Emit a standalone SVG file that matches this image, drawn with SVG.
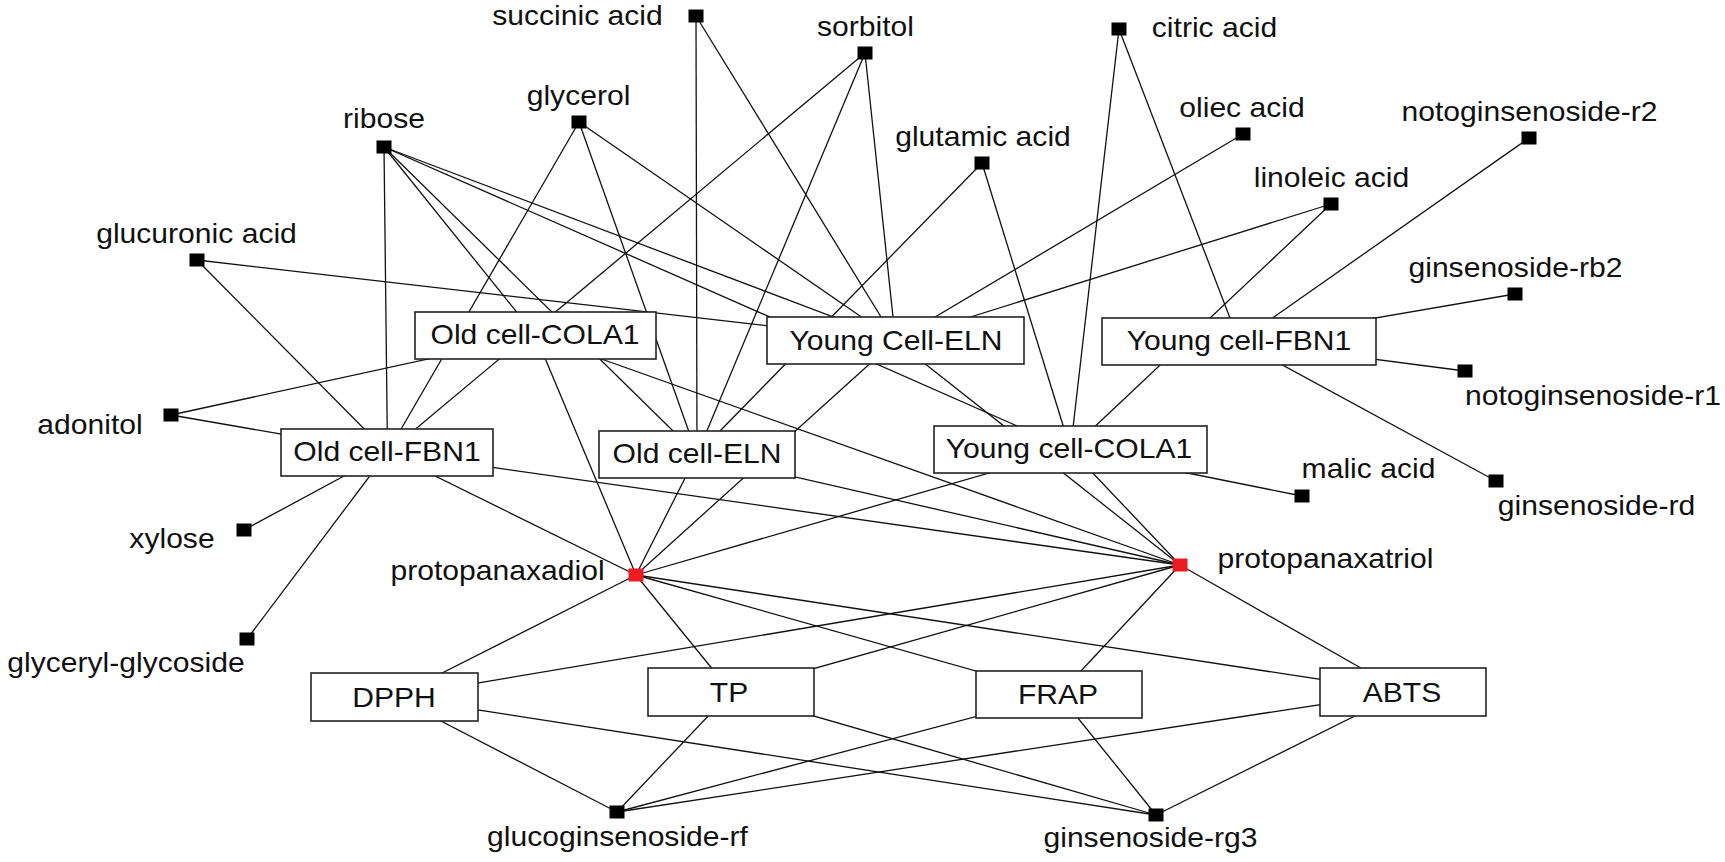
<svg xmlns="http://www.w3.org/2000/svg" width="1725" height="862" viewBox="0 0 1725 862">
<style>
.bg{fill:#fff}
#edges line{stroke:#111;stroke-width:1.3}
.box{fill:#fff;stroke:#222;stroke-width:1.6}
.sq{fill:#000}
.red{fill:#ed1c24}
text{font-family:"Liberation Sans",Arial,sans-serif;font-size:27px;fill:#111;text-anchor:middle}
</style>
<rect class="bg" x="0" y="0" width="1725" height="862"/>
<g id="edges">
<line x1="696" y1="16" x2="697" y2="454.5"/>
<line x1="696" y1="16" x2="895.5" y2="340.5"/>
<line x1="865" y1="53" x2="387.5" y2="452.5"/>
<line x1="865" y1="53" x2="697" y2="454.5"/>
<line x1="865" y1="53" x2="895.5" y2="340.5"/>
<line x1="1119" y1="29" x2="1070.5" y2="449.5"/>
<line x1="1119" y1="29" x2="1239" y2="341.5"/>
<line x1="579" y1="122" x2="387.5" y2="452.5"/>
<line x1="579" y1="122" x2="697" y2="454.5"/>
<line x1="579" y1="122" x2="895.5" y2="340.5"/>
<line x1="384" y1="147" x2="387.5" y2="452.5"/>
<line x1="384" y1="147" x2="535.5" y2="335.5"/>
<line x1="384" y1="147" x2="697" y2="454.5"/>
<line x1="384" y1="147" x2="895.5" y2="340.5"/>
<line x1="384" y1="147" x2="1070.5" y2="449.5"/>
<line x1="982" y1="163" x2="697" y2="454.5"/>
<line x1="982" y1="163" x2="1070.5" y2="449.5"/>
<line x1="1243" y1="134" x2="895.5" y2="340.5"/>
<line x1="1331" y1="204" x2="895.5" y2="340.5"/>
<line x1="1331" y1="204" x2="1070.5" y2="449.5"/>
<line x1="1529" y1="138" x2="1239" y2="341.5"/>
<line x1="1515" y1="294" x2="1239" y2="341.5"/>
<line x1="1465" y1="371" x2="1239" y2="341.5"/>
<line x1="1496" y1="481" x2="1239" y2="341.5"/>
<line x1="1302" y1="496" x2="1070.5" y2="449.5"/>
<line x1="197" y1="260" x2="895.5" y2="340.5"/>
<line x1="197" y1="260" x2="387.5" y2="452.5"/>
<line x1="171" y1="415" x2="535.5" y2="335.5"/>
<line x1="171" y1="415" x2="387.5" y2="452.5"/>
<line x1="244" y1="530" x2="387.5" y2="452.5"/>
<line x1="247" y1="639" x2="387.5" y2="452.5"/>
<line x1="636" y1="575" x2="535.5" y2="335.5"/>
<line x1="636" y1="575" x2="387.5" y2="452.5"/>
<line x1="636" y1="575" x2="697" y2="454.5"/>
<line x1="636" y1="575" x2="895.5" y2="340.5"/>
<line x1="636" y1="575" x2="1070.5" y2="449.5"/>
<line x1="1180" y1="565" x2="535.5" y2="335.5"/>
<line x1="1180" y1="565" x2="387.5" y2="452.5"/>
<line x1="1180" y1="565" x2="697" y2="454.5"/>
<line x1="1180" y1="565" x2="895.5" y2="340.5"/>
<line x1="1180" y1="565" x2="1070.5" y2="449.5"/>
<line x1="636" y1="575" x2="394.5" y2="697"/>
<line x1="636" y1="575" x2="731" y2="692"/>
<line x1="636" y1="575" x2="1059" y2="694.5"/>
<line x1="636" y1="575" x2="1403" y2="692"/>
<line x1="1180" y1="565" x2="394.5" y2="697"/>
<line x1="1180" y1="565" x2="731" y2="692"/>
<line x1="1180" y1="565" x2="1059" y2="694.5"/>
<line x1="1180" y1="565" x2="1403" y2="692"/>
<line x1="617" y1="812" x2="394.5" y2="697"/>
<line x1="617" y1="812" x2="731" y2="692"/>
<line x1="617" y1="812" x2="1059" y2="694.5"/>
<line x1="617" y1="812" x2="1403" y2="692"/>
<line x1="1156" y1="815" x2="394.5" y2="697"/>
<line x1="1156" y1="815" x2="731" y2="692"/>
<line x1="1156" y1="815" x2="1059" y2="694.5"/>
<line x1="1156" y1="815" x2="1403" y2="692"/>
</g>
<g id="old-cell-cola1"><rect class="box" x="415" y="312" width="241" height="47"/><text transform="translate(535,343.5) scale(1.115,1)">Old cell-COLA1</text></g>
<g id="young-cell-eln"><rect class="box" x="767" y="317" width="257" height="47"/><text transform="translate(896,349.5) scale(1.115,1)">Young Cell-ELN</text></g>
<g id="young-cell-fbn1"><rect class="box" x="1102" y="318" width="274" height="47"/><text transform="translate(1239,349.5) scale(1.115,1)">Young cell-FBN1</text></g>
<g id="old-cell-fbn1"><rect class="box" x="281" y="429" width="212" height="47"/><text transform="translate(387,460.5) scale(1.115,1)">Old cell-FBN1</text></g>
<g id="old-cell-eln"><rect class="box" x="599" y="431" width="196" height="47"/><text transform="translate(697,462.5) scale(1.115,1)">Old cell-ELN</text></g>
<g id="young-cell-cola1"><rect class="box" x="934" y="426" width="273" height="47"/><text transform="translate(1069,457.5) scale(1.115,1)">Young cell-COLA1</text></g>
<g id="dpph"><rect class="box" x="311" y="673" width="167" height="48"/><text transform="translate(394,706.5) scale(1.115,1)">DPPH</text></g>
<g id="tp"><rect class="box" x="648" y="668" width="166" height="48"/><text transform="translate(729,701.5) scale(1.115,1)">TP</text></g>
<g id="frap"><rect class="box" x="976" y="671" width="166" height="47"/><text transform="translate(1058,703.5) scale(1.115,1)">FRAP</text></g>
<g id="abts"><rect class="box" x="1320" y="668" width="166" height="48"/><text transform="translate(1402,701.5) scale(1.115,1)">ABTS</text></g>
<g id="succinic-acid"><rect class="sq" x="688.5" y="9.5" width="15" height="13"/><text transform="translate(577.5,25) scale(1.115,1)">succinic acid</text></g>
<g id="sorbitol"><rect class="sq" x="857.5" y="46.5" width="15" height="13"/><text transform="translate(865.5,36) scale(1.115,1)">sorbitol</text></g>
<g id="citric-acid"><rect class="sq" x="1111.5" y="22.5" width="15" height="13"/><text transform="translate(1214.5,37) scale(1.115,1)">citric acid</text></g>
<g id="glycerol"><rect class="sq" x="571.5" y="115.5" width="15" height="13"/><text transform="translate(578.5,105) scale(1.115,1)">glycerol</text></g>
<g id="ribose"><rect class="sq" x="376.5" y="140.5" width="15" height="13"/><text transform="translate(384,128) scale(1.115,1)">ribose</text></g>
<g id="glutamic-acid"><rect class="sq" x="974.5" y="156.5" width="15" height="13"/><text transform="translate(983,146) scale(1.115,1)">glutamic acid</text></g>
<g id="oliec-acid"><rect class="sq" x="1235.5" y="127.5" width="15" height="13"/><text transform="translate(1242,117) scale(1.115,1)">oliec acid</text></g>
<g id="notoginsenoside-r2"><rect class="sq" x="1521.5" y="131.5" width="15" height="13"/><text transform="translate(1529.5,121) scale(1.115,1)">notoginsenoside-r2</text></g>
<g id="linoleic-acid"><rect class="sq" x="1323.5" y="197.5" width="15" height="13"/><text transform="translate(1331.5,187) scale(1.115,1)">linoleic acid</text></g>
<g id="ginsenoside-rb2"><rect class="sq" x="1507.5" y="287.5" width="15" height="13"/><text transform="translate(1515.5,277) scale(1.115,1)">ginsenoside-rb2</text></g>
<g id="glucuronic-acid"><rect class="sq" x="189.5" y="253.5" width="15" height="13"/><text transform="translate(196.5,243) scale(1.115,1)">glucuronic acid</text></g>
<g id="adonitol"><rect class="sq" x="163.5" y="408.5" width="15" height="13"/><text transform="translate(90,434) scale(1.115,1)">adonitol</text></g>
<g id="xylose"><rect class="sq" x="236.5" y="523.5" width="15" height="13"/><text transform="translate(172,548) scale(1.115,1)">xylose</text></g>
<g id="glyceryl-glycoside"><rect class="sq" x="239.5" y="632.5" width="15" height="13"/><text transform="translate(126,672) scale(1.115,1)">glyceryl-glycoside</text></g>
<g id="notoginsenoside-r1"><rect class="sq" x="1457.5" y="364.5" width="15" height="13"/><text transform="translate(1593,405) scale(1.115,1)">notoginsenoside-r1</text></g>
<g id="malic-acid"><rect class="sq" x="1294.5" y="489.5" width="15" height="13"/><text transform="translate(1368.5,478) scale(1.115,1)">malic acid</text></g>
<g id="ginsenoside-rd"><rect class="sq" x="1488.5" y="474.5" width="15" height="13"/><text transform="translate(1596.5,515) scale(1.115,1)">ginsenoside-rd</text></g>
<g id="protopanaxadiol"><rect class="red" x="628.5" y="568.5" width="15" height="13"/><text transform="translate(497.5,580) scale(1.115,1)">protopanaxadiol</text></g>
<g id="protopanaxatriol"><rect class="red" x="1172.5" y="558.5" width="15" height="13"/><text transform="translate(1325.5,568) scale(1.115,1)">protopanaxatriol</text></g>
<g id="glucoginsenoside-rf"><rect class="sq" x="609.5" y="805.5" width="15" height="13"/><text transform="translate(617.5,846) scale(1.115,1)">glucoginsenoside-rf</text></g>
<g id="ginsenoside-rg3"><rect class="sq" x="1148.5" y="808.5" width="15" height="13"/><text transform="translate(1150.5,847) scale(1.115,1)">ginsenoside-rg3</text></g>
</svg>
